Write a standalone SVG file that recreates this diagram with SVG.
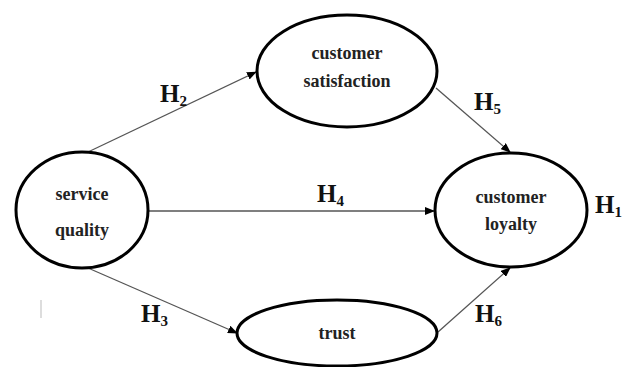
<svg xmlns="http://www.w3.org/2000/svg" width="633" height="367" viewBox="0 0 633 367">
<style>
.node{fill:#fff;stroke:#000;stroke-width:3}
.nt{font-family:"Liberation Serif","Times New Roman",serif;font-weight:bold;font-size:18px;fill:#222;text-anchor:middle}
.conn{stroke:#555;stroke-width:1.3;fill:none;marker-end:url(#arr)}
.h{font-family:"Liberation Serif","Times New Roman",serif;font-weight:bold;font-size:25px;fill:#111}
.s{font-size:15px}
</style>
<defs>
<marker id="arr" markerUnits="userSpaceOnUse" markerWidth="10" markerHeight="8" refX="9" refY="4" orient="auto">
<path d="M0,0 L10,4 L0,8 z" fill="#000"/>
</marker>
</defs>
<rect width="633" height="367" fill="#fff"/>
<line x1="41" y1="300" x2="41" y2="318" stroke="#ddd" stroke-width="2"/>
<g id="connectors">
<line class="conn" x1="88" y1="152" x2="256" y2="72"/>
<line class="conn" x1="148" y1="211" x2="434" y2="211"/>
<line class="conn" x1="88" y1="268" x2="237" y2="333"/>
<line class="conn" x1="436" y1="88" x2="510" y2="152"/>
<line class="conn" x1="438" y1="332" x2="510" y2="268"/>
</g>
<g id="service-quality">
<ellipse class="node" cx="82" cy="210" rx="66" ry="58"/>
<text class="nt" x="82" y="200">service</text>
<text class="nt" x="82" y="236">quality</text>
</g>
<g id="customer-satisfaction">
<ellipse class="node" cx="347" cy="71" rx="90" ry="56"/>
<text class="nt" x="347" y="59">customer</text>
<text class="nt" x="347" y="87">satisfaction</text>
</g>
<g id="customer-loyalty">
<ellipse class="node" cx="511" cy="210" rx="76" ry="57"/>
<text class="nt" x="511" y="203">customer</text>
<text class="nt" x="511" y="230">loyalty</text>
</g>
<g id="trust">
<ellipse class="node" cx="337" cy="333" rx="100" ry="33"/>
<text class="nt" x="337" y="339">trust</text>
</g>
<g id="labels">
<text class="h" x="160" y="102">H<tspan class="s" dy="4">2</tspan></text>
<text class="h" x="317" y="202">H<tspan class="s" dy="4">4</tspan></text>
<text class="h" x="141" y="322">H<tspan class="s" dy="4">3</tspan></text>
<text class="h" x="474" y="110">H<tspan class="s" dy="4">5</tspan></text>
<text class="h" x="475" y="322">H<tspan class="s" dy="4">6</tspan></text>
<text class="h" x="595" y="213">H<tspan class="s" dy="4">1</tspan></text>
</g>
</svg>
